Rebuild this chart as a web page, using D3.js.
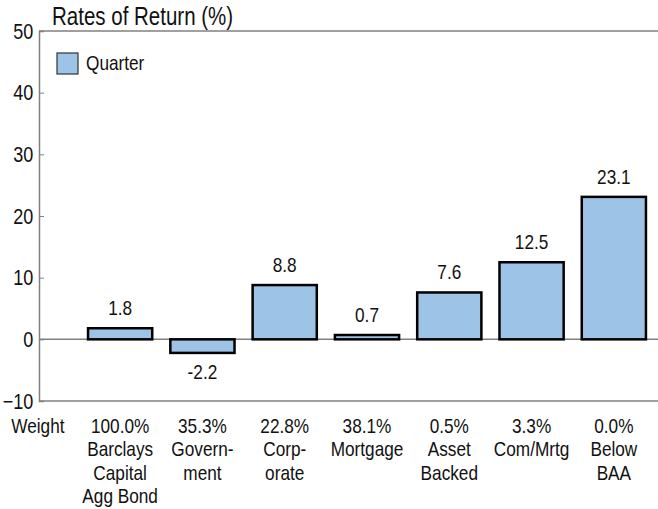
<!DOCTYPE html>
<html>
<head>
<meta charset="utf-8">
<script src="https://cdn.jsdelivr.net/npm/d3@7"></script>
<style>
  body { margin: 0; background: #fff; }
  text { font-family: "Liberation Sans", Arial, sans-serif; fill: #111; }
</style>
</head>
<body>
<svg id="chart" width="658" height="509"></svg>
<script>
const weights = ["100.0%", "35.3%", "22.8%", "38.1%", "0.5%", "3.3%", "0.0%"];
const categories = [["Barclays", "Capital", "Agg Bond"], ["Govern-", "ment"], ["Corp-", "orate"],
    ["Mortgage"], ["Asset", "Backed"], ["Com/Mrtg"], ["Below", "BAA"]];
const quarter = [1.8, -2.2, 8.8, 0.7, 7.6, 12.5, 23.1];
const yTicks = [-10, 0, 10, 20, 30, 40, 50];

const width = 658;
const axisColor = "#808080";
const barColor = "#9dc3e6";
const squeeze = 0.82; // narrow face look-alike

const svg = d3.select("#chart");

function place(px, py) {
    return "translate(" + px + "," + py + ") scale(" + squeeze + ",1)";
}

const y = d3.scaleLinear().domain([-10, 50]).range([401, 31]);
const x = d3.scaleBand()
    .domain(d3.range(categories.length))
    .range([79, 655])
    .paddingInner(0.22)
    .paddingOuter(0.11);

// frame lines
svg.append("line").attr("x1", 39).attr("x2", width).attr("y1", y(50)).attr("y2", y(50))
    .attr("stroke", axisColor).attr("stroke-width", 1.5);
svg.append("line").attr("x1", 39).attr("x2", width).attr("y1", y(-10)).attr("y2", y(-10))
    .attr("stroke", axisColor).attr("stroke-width", 1.5);

// y axis, ticks pointing inward
const yAxis = svg.append("g")
    .attr("transform", "translate(39,0)")
    .call(d3.axisLeft(y).tickValues(yTicks).tickSize(-5).tickPadding(7));
yAxis.select(".domain").attr("stroke", axisColor).attr("stroke-width", 1.5);
yAxis.selectAll(".tick line").attr("stroke", axisColor);
yAxis.selectAll(".tick text")
    .attr("transform", "scale(" + squeeze + ",1)")
    .style("font-family", "'Liberation Sans', Arial, sans-serif")
    .style("font-size", "22px").attr("fill", "#111");

// zero line
svg.append("line").attr("x1", 39).attr("x2", width).attr("y1", y(0)).attr("y2", y(0))
    .attr("stroke", axisColor).attr("stroke-width", 1.5);

// bars
svg.selectAll(".bar")
    .data(quarter)
    .join("rect")
    .attr("class", "bar")
    .attr("x", (d, i) => x(i))
    .attr("width", x.bandwidth())
    .attr("y", d => y(Math.max(0, d)))
    .attr("height", d => Math.abs(y(d) - y(0)))
    .attr("fill", barColor)
    .attr("stroke", "#000")
    .attr("stroke-width", 2.5);

// value labels
svg.selectAll(".val")
    .data(quarter)
    .join("text")
    .attr("class", "val")
    .attr("transform", (d, i) => place(x(i) + x.bandwidth() / 2, d >= 0 ? y(d) - 13 : y(d) + 26))
    .attr("text-anchor", "middle")
    .style("font-size", "21px")
    .text(d => d.toFixed(1));

// category labels
const step = x.step();
svg.append("text")
    .attr("transform", place(x(0) + x.bandwidth() / 2 - step, 433))
    .attr("text-anchor", "middle")
    .style("font-size", "21px")
    .text("Weight");

const cat = svg.selectAll(".cat")
    .data(categories)
    .join("text")
    .attr("class", "cat")
    .attr("text-anchor", "middle")
    .style("font-size", "21px")
    .attr("transform", (d, i) => place(x(i) + x.bandwidth() / 2, 433));
cat.append("tspan").attr("x", 0).attr("y", 0).text((d, i) => weights[i]);
cat.selectAll(".line")
    .data(d => d)
    .join("tspan")
    .attr("class", "line")
    .attr("x", 0)
    .attr("y", (d, j) => (j + 1) * 23.5)
    .text(d => d);

// title
svg.append("text")
    .attr("transform", place(52, 25))
    .style("font-size", "25px")
    .text("Rates of Return (%)");

// legend
svg.append("rect")
    .attr("x", 57).attr("y", 53).attr("width", 21).attr("height", 21)
    .attr("fill", barColor).attr("stroke", "#333").attr("stroke-width", 1.2);
svg.append("text")
    .attr("transform", place(86, 70))
    .style("font-size", "21px")
    .text("Quarter");
</script>
</body>
</html>
